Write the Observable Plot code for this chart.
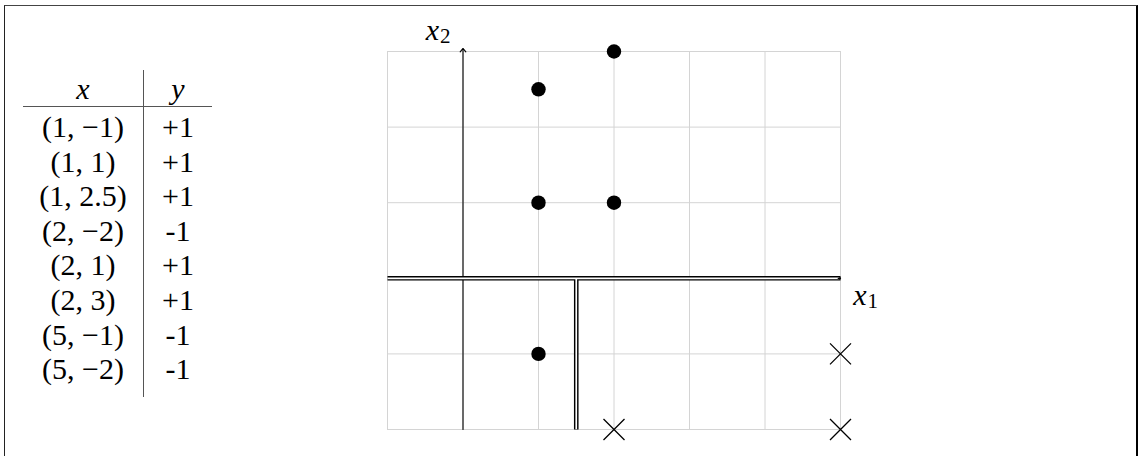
<!DOCTYPE html>
<html>
<head>
<meta charset="utf-8">
<script src="https://cdn.jsdelivr.net/npm/d3@7"></script>
<script src="https://cdn.jsdelivr.net/npm/@observablehq/plot@0.6"></script>
<style>
  html, body { margin: 0; padding: 0; background: #fff; }
  #wrap { position: relative; width: 1139px; height: 456px; overflow: hidden; }
  #frame { position: absolute; left: 4px; top: 5px; width: 1131px; height: 460px;
           border-left: 1.4px solid #222; border-top: 1.4px solid #444; border-right: 2px solid #000; }
  #chart { position: absolute; left: 0; top: 0; }
  .cell { position: absolute; transform: translate(-50%, -50%); white-space: nowrap;
          font-family: "Liberation Serif", "DejaVu Serif", serif; font-size: 30px; line-height: 1; color: #000; }
  .it { font-style: italic; }
  .hline { position: absolute; background: #555; }
</style>
</head>
<body>
<div id="wrap">
  <div id="frame"></div>
  <div id="table"></div>
  <div id="chart"></div>
</div>
<script>
// Training set: points (x1, x2) and their labels
const pointX1 = [1, 1, 1, 2, 2, 2, 5, 5];
const pointX2 = [-1, 1, 2.5, -2, 1, 3, -1, -2];
const pointY = [1, 1, 1, -1, 1, 1, -1, -1];

// Table column texts
const tableHeaders = ["x", "y"];
const tableX = ["(1, −1)", "(1, 1)", "(1, 2.5)", "(2, −2)", "(2, 1)", "(2, 3)", "(5, −1)", "(5, −2)"];
const tableY = ["+1", "+1", "+1", "-1", "+1", "+1", "-1", "-1"];

// Grid lines and axis extent
const gridX1 = [-1, 0, 1, 2, 3, 4, 5];
const gridX2 = [-2, -1, 0, 1, 2, 3];

// Decision boundary segments (a stump split on x2 = 0, then x1 = 1.5)
const boundaryH = [{x1: -1, y1: 0, x2: 5, y2: 0}];
const boundaryV = [{x1: 1.5, y1: 0, x2: 1.5, y2: -2}];

// Axis names, anchored at the axis ends
const labelX2 = [{x: 0, y: 3, text: "x", sub: "2"}];
const labelX1 = [{x: 5, y: 0, text: "x", sub: "1"}];

// ---- table ----
const table = document.getElementById("table");
function cell(text, x, y, italic) {
  const d = document.createElement("div");
  d.className = "cell" + (italic ? " it" : "");
  d.textContent = text;
  d.style.left = x + "px";
  d.style.top = y + "px";
  table.appendChild(d);
}
const colX = 83, colY = 178, headTop = 89, rowTop = 127, rowStep = 34.6;
cell(tableHeaders[0], colX, headTop, true);
cell(tableHeaders[1], colY, headTop, true);
tableX.forEach((t, i) => cell(t, colX, rowTop + i * rowStep, false));
tableY.forEach((t, i) => cell(t, colY, rowTop + i * rowStep, false));
function line(l, t, w, h) {
  const d = document.createElement("div");
  d.className = "hline";
  Object.assign(d.style, {left: l + "px", top: t + "px", width: w + "px", height: h + "px"});
  table.appendChild(d);
}
line(23, 106, 189, 1.3);
line(143, 70, 1.2, 327);

// ---- chart ----
const pts = pointX1.map((x, i) => ({x, y: pointX2[i], label: pointY[i]}));
const pos = pts.filter(d => d.label > 0);
const neg = pts.filter(d => d.label < 0);

const serif = "Liberation Serif, DejaVu Serif, serif";
function axisName(data, dx, dy) {
  return [
    Plot.text(data, {x: "x", y: "y", text: "text", dx, dy,
      fontFamily: serif, fontSize: 30, fontStyle: "italic", fill: "#000", textAnchor: "end"}),
    Plot.text(data, {x: "x", y: "y", text: "sub", dx: dx + 1, dy: dy + 6,
      fontFamily: serif, fontSize: 21, fill: "#000", textAnchor: "start"})
  ];
}

const chart = Plot.plot({
  width: 1139,
  height: 456,
  marginLeft: 387,
  marginRight: 299,
  marginTop: 51,
  marginBottom: 27,
  x: {domain: [-1, 5], axis: null},
  y: {domain: [-2, 3], axis: null},
  style: {background: "transparent", overflow: "visible"},
  marks: [
    Plot.ruleX(gridX1, {x: d => d, y1: -2, y2: 3, stroke: "#d4d4d4", strokeWidth: 1}),
    Plot.ruleY(gridX2, {y: d => d, x1: -1, x2: 5, stroke: "#d4d4d4", strokeWidth: 1}),
    // vertical x2 axis with arrow
    Plot.arrow([{x1: 0, y1: -2, x2: 0, y2: 3.04}], {
      x1: "x1", y1: "y1", x2: "x2", y2: "y2",
      stroke: "#000", strokeWidth: 1.1, headLength: 6, headAngle: 80
    }),
    // double lines: black body first, white core on top
    Plot.link(boundaryH, {x1: "x1", y1: "y1", x2: "x2", y2: "y2", stroke: "#000", strokeWidth: 4.6}),
    Plot.link(boundaryV, {x1: "x1", y1: "y1", x2: "x2", y2: "y2", stroke: "#000", strokeWidth: 4.6}),
    Plot.link(boundaryH, {x1: "x1", y1: "y1", x2: d => d.x2 - 0.012, y2: "y2", stroke: "#fff", strokeWidth: 1.7}),
    Plot.link(boundaryV, {x1: "x1", y1: "y1", x2: "x2", y2: d => d.y2 + 0.004, stroke: "#fff", strokeWidth: 1.7}),
    // arrow tip of the x1 axis
    Plot.arrow(boundaryH, {
      x1: d => d.x2 - 0.03, y1: "y1", x2: "x2", y2: "y2",
      stroke: "#000", strokeWidth: 1.3, headLength: 7, headAngle: 80
    }),
    // samples
    Plot.dot(pos, {x: "x", y: "y", r: 7.2, fill: "#000", stroke: "none"}),
    Plot.dot(neg, {x: "x", y: "y", r: 9.6, symbol: "times", stroke: "#000", strokeWidth: 1.3}),
    // axis names
    ...axisName(labelX2, -24, -21),
    ...axisName(labelX1, 26, 17)
  ]
});
document.getElementById("chart").appendChild(chart);
</script>
</body>
</html>
